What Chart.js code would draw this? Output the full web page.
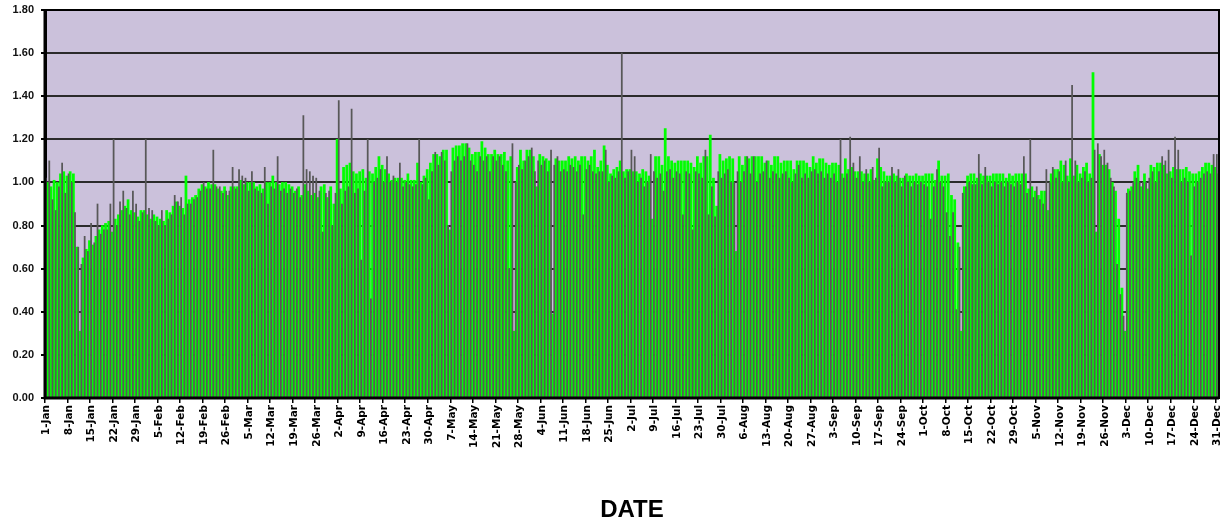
<!DOCTYPE html>
<html>
<head>
<meta charset="utf-8">
<script src="https://cdn.jsdelivr.net/npm/chart.js@4.4.1/dist/chart.umd.min.js"></script>
<style>
  html, body { margin: 0; padding: 0; background: #ffffff; }
  #wrap { width: 1225px; height: 522px; position: relative; }
</style>
</head>
<body>
<div id="wrap"><canvas id="chart" width="1225" height="522"></canvas></div>
<script>
// Daily categories for one (non-leap) year
const monthNames = ['Jan', 'Feb', 'Mar', 'Apr', 'May', 'Jun', 'Jul', 'Aug', 'Sep', 'Oct', 'Nov', 'Dec'];
const monthLengths = [31, 28, 31, 30, 31, 30, 31, 31, 30, 31, 30, 31];
const categories = [];
monthNames.forEach((m, mi) => {
  for (let d = 1; d <= monthLengths[mi]; d++) categories.push(d + '-' + m);
});

// Weekly tick labels on the date axis
const weeklyTicks = [
  '1-Jan', '8-Jan', '15-Jan', '22-Jan', '29-Jan', '5-Feb', '12-Feb', '19-Feb', '26-Feb',
  '5-Mar', '12-Mar', '19-Mar', '26-Mar', '2-Apr', '9-Apr', '16-Apr', '23-Apr', '30-Apr',
  '7-May', '14-May', '21-May', '28-May', '4-Jun', '11-Jun', '18-Jun', '25-Jun',
  '2-Jul', '9-Jul', '16-Jul', '23-Jul', '30-Jul', '6-Aug', '13-Aug', '20-Aug', '27-Aug',
  '3-Sep', '10-Sep', '17-Sep', '24-Sep', '1-Oct', '8-Oct', '15-Oct', '22-Oct', '29-Oct',
  '5-Nov', '12-Nov', '19-Nov', '26-Nov', '3-Dec', '10-Dec', '17-Dec', '24-Dec', '31-Dec'
];

// Value axis ticks
const yTickValues = [0, 0.2, 0.4, 0.6, 0.8, 1.0, 1.2, 1.4, 1.6, 1.8];

// Green series, by quarter
const greenQ1 = [
  1.00, 0.98, 1.01, 1.00, 1.04, 1.05, 1.03, 1.05, 1.04, 0.70,
  0.31, 0.65, 0.69, 0.73, 0.71, 0.75, 0.78, 0.80, 0.81, 0.82,
  0.77, 0.83, 0.85, 0.87, 0.89, 0.92, 0.87, 0.86, 0.84, 0.87,
  0.87, 0.85, 0.83, 0.85, 0.84, 0.83, 0.82, 0.87, 0.86, 0.89,
  0.91, 0.89, 0.88, 1.03, 0.92, 0.93, 0.94, 0.97, 0.99, 0.98,
  1.00, 0.99, 0.99, 0.97, 0.96, 0.98, 0.94, 0.98, 0.98, 0.98,
  1.01, 0.99, 1.00, 1.00, 1.00, 0.98, 0.99, 0.97, 1.00, 1.00,
  1.03, 1.00, 0.99, 1.00, 1.00, 0.99, 0.98, 0.96, 0.98, 0.94,
  0.99, 0.96, 0.94, 0.95, 0.93, 0.98, 0.99, 0.93, 0.98, 0.90
];
const greenQ2 = [
  1.20, 0.97, 1.07, 1.08, 1.09, 1.05, 1.04, 1.05, 1.06, 1.02,
  1.05, 1.04, 1.07, 1.12, 1.08, 1.06, 1.04, 1.01, 1.02, 1.02,
  1.02, 1.01, 1.04, 1.01, 1.01, 1.09, 1.00, 1.03, 1.06, 1.09,
  1.13, 1.13, 1.12, 1.15, 1.15, 0.78, 1.16, 1.17, 1.17, 1.18,
  1.18, 1.16, 1.13, 1.14, 1.14, 1.19, 1.16, 1.13, 1.13, 1.15,
  1.13, 1.13, 1.14, 1.10, 1.12, 0.31, 1.07, 1.15, 1.10, 1.15,
  1.15, 1.12, 0.98, 1.13, 1.12, 1.11, 1.10, 0.39, 1.11, 1.10,
  1.10, 1.10, 1.12, 1.11, 1.12, 1.10, 1.12, 1.12, 1.10, 1.12,
  1.15, 1.07, 1.10, 1.17, 1.08, 1.04, 1.06, 1.07, 1.10, 1.05,
  1.06
];
const greenQ3 = [
  1.06, 1.05, 1.05, 1.04, 1.06, 1.05, 1.03, 0.83, 1.12, 1.12,
  1.08, 1.25, 1.12, 1.10, 1.09, 1.10, 1.10, 1.10, 1.10, 1.09,
  1.07, 1.12, 1.09, 1.12, 1.12, 1.22, 1.02, 0.89, 1.13, 1.10,
  1.11, 1.12, 1.11, 0.68, 1.12, 1.08, 1.12, 1.11, 1.12, 1.12,
  1.12, 1.12, 1.09, 1.10, 1.08, 1.12, 1.12, 1.09, 1.10, 1.10,
  1.10, 1.06, 1.10, 1.10, 1.10, 1.09, 1.07, 1.12, 1.09, 1.11,
  1.11, 1.09, 1.08, 1.09, 1.09, 1.08, 1.04, 1.11, 1.06, 1.07,
  1.05, 1.05, 1.05, 1.04, 1.04, 1.06, 1.01, 1.11, 1.07, 1.05,
  1.03, 1.03, 1.04, 1.03, 1.02, 1.02, 1.04, 1.03, 1.03, 1.04,
  1.03, 1.03
];
const greenQ4 = [
  1.04, 1.04, 1.04, 1.01, 1.10, 1.03, 1.03, 1.04, 0.94, 0.92,
  0.72, 0.31, 0.98, 1.03, 1.04, 1.04, 1.02, 1.04, 1.03, 1.03,
  1.03, 1.04, 1.04, 1.04, 1.04, 1.02, 1.04, 1.03, 1.04, 1.04,
  1.04, 1.04, 0.97, 0.98, 0.96, 0.94, 0.96, 0.96, 0.87, 1.04,
  1.06, 1.06, 1.10, 1.08, 1.03, 1.11, 1.03, 1.08, 1.04, 1.07,
  1.09, 1.04, 1.51, 0.77, 1.13, 1.08, 1.08, 1.06, 1.00, 0.96,
  0.83, 0.51, 0.31, 0.97, 0.98, 1.05, 1.08, 0.98, 1.04, 0.97,
  1.08, 1.07, 1.09, 1.09, 1.08, 1.04, 1.05, 1.07, 1.06, 1.06,
  1.06, 1.07, 1.05, 1.04, 1.04, 1.05, 1.07, 1.09, 1.09, 1.08,
  1.07, 1.04
];

// Grey series, by quarter
const greyQ1 = [
  1.02, 1.10, 0.92, 0.87, 0.98, 1.09, 0.95, 1.04, 1.00, 0.86,
  0.70, 0.62, 0.75, 0.68, 0.81, 0.72, 0.90, 0.76, 0.78, 0.78,
  0.90, 1.20, 0.80, 0.91, 0.96, 0.88, 0.85, 0.96, 0.90, 0.82,
  0.86, 1.20, 0.88, 0.87, 0.82, 0.80, 0.87, 0.80, 0.83, 0.85,
  0.94, 0.91, 0.93, 0.85, 0.90, 0.90, 0.92, 0.93, 0.96, 1.00,
  0.97, 0.97, 1.15, 0.98, 0.98, 0.95, 0.96, 0.96, 1.07, 0.97,
  1.06, 1.03, 1.02, 0.96, 1.05, 0.97, 0.96, 0.95, 1.07, 0.90,
  0.98, 0.97, 1.12, 0.96, 0.97, 0.95, 0.97, 0.95, 0.97, 0.93,
  1.31, 1.06, 1.05, 1.03, 1.02, 0.96, 0.77, 0.95, 0.96, 0.80
];
const greyQ2 = [
  0.95, 1.38, 0.90, 0.96, 0.98, 1.34, 0.95, 0.97, 0.64, 0.96,
  1.20, 0.46, 1.00, 1.02, 1.06, 1.00, 1.12, 1.00, 1.03, 1.00,
  1.09, 0.98, 1.00, 0.99, 0.98, 0.99, 1.20, 0.99, 1.02, 0.92,
  1.05, 1.14, 1.08, 1.14, 1.10, 0.80, 1.05, 1.10, 1.12, 1.10,
  1.12, 1.18, 1.10, 1.08, 1.05, 1.12, 1.10, 1.12, 1.05, 1.12,
  1.10, 1.12, 1.08, 1.05, 0.60, 1.18, 1.00, 1.08, 1.06, 1.10,
  1.12, 1.16, 1.05, 1.10, 1.08, 1.10, 1.05, 1.15, 1.08, 1.12,
  1.05, 1.06, 1.05, 1.08, 1.07, 1.05, 1.08, 0.85, 1.06, 1.08,
  1.05, 1.04, 1.05, 1.05, 1.15, 1.00, 1.03, 1.02, 1.05, 1.60,
  1.02
];
const greyQ3 = [
  1.05, 1.15, 1.12, 1.00, 1.02, 0.98, 1.00, 1.13, 1.05, 1.02,
  1.04, 0.96, 1.05, 1.06, 1.02, 1.05, 1.04, 0.85, 1.05, 1.04,
  0.78, 1.05, 1.04, 1.02, 1.15, 0.85, 0.98, 0.84, 1.05, 1.02,
  1.04, 1.06, 1.00, 1.00, 1.05, 1.00, 1.05, 1.12, 1.04, 1.12,
  1.00, 1.04, 1.05, 1.10, 1.02, 1.05, 1.04, 1.02, 1.04, 1.05,
  1.02, 1.00, 1.04, 1.08, 1.02, 1.04, 1.02, 1.05, 1.06, 1.04,
  1.05, 1.02, 1.04, 1.02, 1.04, 1.00, 1.20, 1.02, 1.04, 1.21,
  1.09, 1.02, 1.12, 1.00, 1.06, 1.00, 1.07, 1.02, 1.16, 0.98,
  1.00, 1.00, 1.07, 1.00, 1.06, 0.98, 1.03, 1.00, 0.98, 1.00,
  0.99, 1.00
];
const greyQ4 = [
  0.99, 0.98, 0.83, 0.98, 1.06, 1.00, 0.98, 0.86, 0.75, 0.86,
  0.41, 0.70, 0.95, 0.98, 1.00, 0.99, 0.99, 1.13, 0.99, 1.07,
  1.00, 0.98, 1.00, 0.99, 1.00, 0.98, 1.00, 0.99, 0.98, 1.00,
  0.99, 1.12, 0.95, 1.20, 0.93, 0.98, 0.92, 0.90, 1.06, 1.00,
  1.07, 1.02, 1.05, 1.00, 1.10, 1.00, 1.45, 1.10, 1.00, 1.02,
  1.05, 1.00, 1.02, 1.15, 1.18, 1.12, 1.15, 1.09, 1.02, 0.98,
  0.62, 0.48, 0.38, 0.95, 0.96, 1.00, 1.02, 1.00, 1.00, 1.00,
  1.02, 1.05, 1.00, 1.05, 1.12, 1.10, 1.15, 1.02, 1.21, 1.15,
  1.00, 1.02, 1.00, 0.66, 0.98, 1.00, 1.02, 1.04, 1.05, 1.04,
  1.13, 1.13
];

const greenSeries = [].concat(greenQ1, greenQ2, greenQ3, greenQ4);
const greySeries = [].concat(greyQ1, greyQ2, greyQ3, greyQ4);

// Lavender plot background and the black frame round the plot area
const plotFrame = {
  id: 'plotFrame',
  beforeDraw(chart) {
    const { ctx, chartArea: a } = chart;
    ctx.save();
    ctx.fillStyle = '#cbc1db';
    ctx.fillRect(a.left, a.top, a.right - a.left, a.bottom - a.top);
    ctx.restore();
  },
  afterDraw(chart) {
    const { ctx, chartArea: a } = chart;
    ctx.save();
    ctx.strokeStyle = '#000000';
    ctx.lineWidth = 2;
    ctx.strokeRect(a.left, a.top, a.right - a.left, a.bottom - a.top);
    ctx.lineWidth = 3;
    ctx.beginPath();
    ctx.moveTo(a.left, a.top);
    ctx.lineTo(a.left, a.bottom);
    ctx.lineTo(a.right, a.bottom);
    ctx.stroke();
    ctx.restore();
  }
};

new Chart(document.getElementById('chart'), {
  type: 'bar',
  data: {
    labels: categories,
    datasets: [
      {
        label: 'Grey',
        data: greySeries,
        backgroundColor: '#585858',
        borderWidth: 0,
        barThickness: 1.1
      },
      {
        label: 'Green',
        data: greenSeries,
        backgroundColor: '#00ff00',
        borderWidth: 0,
        barThickness: 2.1
      }
    ]
  },
  options: {
    responsive: false,
    animation: false,
    devicePixelRatio: 1,
    layout: { padding: { top: 10, right: 6, left: 0, bottom: 0 } },
    plugins: {
      legend: { display: false },
      tooltip: { enabled: false }
    },
    scales: {
      x: {
        type: 'category',
        offset: true,
        border: { display: false },
        grid: {
          offset: true,
          drawOnChartArea: false,
          drawTicks: true,
          tickLength: 5,
          lineWidth: 1.5,
          color: (c) => (c.index % 7 === 0 ? '#000000' : 'rgba(0,0,0,0)')
        },
        ticks: {
          autoSkip: false,
          minRotation: 90,
          maxRotation: 90,
          padding: 2,
          color: '#000000',
          font: { family: '"DejaVu Sans", sans-serif', weight: 'bold', size: 10.5 },
          callback: (v, i) => (i % 7 === 0 ? weeklyTicks[i / 7] : '')
        },
        title: {
          display: true,
          text: 'DATE',
          color: '#000000',
          font: { family: '"Liberation Sans", Arial, sans-serif', weight: 'bold', size: 24, lineHeight: 1 },
          padding: { top: 0, bottom: 0 }
        },
        afterFit: (s) => {
          s.height = 124;
          s.paddingLeft = 0;
          s.paddingRight = 0;
        }
      },
      y: {
        min: 0,
        max: 1.8,
        afterBuildTicks: (s) => { s.ticks = yTickValues.map((v) => ({ value: v })); },
        border: { display: true, color: '#000000', width: 3 },
        grid: {
          color: '#2b2b2b',
          lineWidth: 2,
          drawTicks: true,
          tickLength: 4,
          tickColor: '#000000'
        },
        ticks: {
          padding: 7,
          color: '#111111',
          font: { family: '"Liberation Sans", Arial, sans-serif', weight: 'bold', size: 11 },
          callback: (v) => Number(v).toFixed(2)
        },
        afterFit: (s) => {
          s.width = 45;
          s.paddingTop = 0;
          s.paddingBottom = 0;
        }
      }
    }
  },
  plugins: [plotFrame]
});
</script>
</body>
</html>
